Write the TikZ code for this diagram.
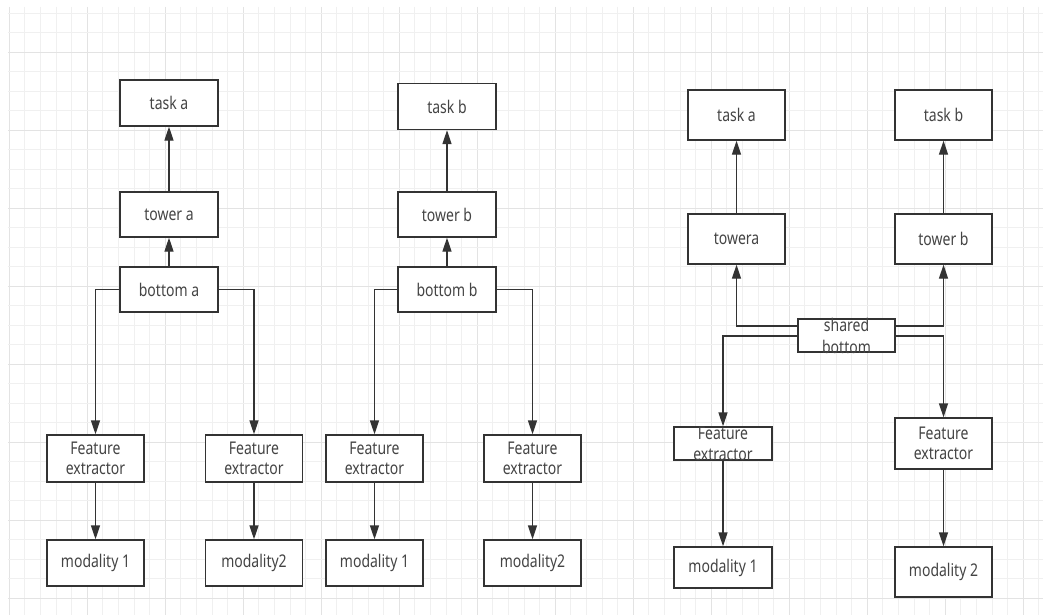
\documentclass[tikz,border=0pt]{standalone}
\usepackage{fontspec}
\setmainfont{Noto Sans}[FakeStretch=0.8]
\usetikzlibrary{arrows.meta}
\definecolor{gridminor}{HTML}{F0F0F0}
\definecolor{gridmajor}{HTML}{E3E3E3}
\definecolor{linec}{HTML}{333333}
\definecolor{txtc}{HTML}{444444}
\tikzset{
  box/.style={draw=linec, line width=1.4pt, fill=white, inner sep=0pt, align=center,
    text=txtc, font=\fontsize{17.5}{20.5}\selectfont, minimum width=97pt},
  txt/.style={inner sep=0pt, align=center, text=txtc, font=\fontsize{17.5}{20.5}\selectfont},
  conn/.style={draw=linec, line width=1.4pt},
  arr/.style={conn, -{Triangle[length=14pt,width=9pt]}}
}
\begin{document}
\begin{tikzpicture}[x=1pt,y=-1pt]
\useasboundingbox (0,0) rectangle (1043,615);
\fill[white] (0,0) rectangle (1043,615);
% grid
\foreach \k in {0,...,66}{
  \pgfmathsetmacro{\gx}{9.3+15.6*\k}
  \pgfmathtruncatemacro{\mj}{mod(\k,5)==0}
  \ifnum\mj=1
    \draw[gridmajor, line width=1.1pt] (\gx,7) -- (\gx,615);
  \else
    \draw[gridminor, line width=1pt] (\gx,7) -- (\gx,615);
  \fi
}
\foreach \k in {0,...,30}{
  \pgfmathsetmacro{\gy}{13.3+19.5*\k}
  \pgfmathtruncatemacro{\mj}{mod(\k,4)==2}
  \ifnum\mj=1
    \draw[gridmajor, line width=1.1pt] (8,\gy) -- (1043,\gy);
  \else
    \draw[gridminor, line width=1pt] (8,\gy) -- (1043,\gy);
  \fi
}
% ---- left group
\node[box, minimum width=98pt, minimum height=46pt] (ta1) at (169,103) {task a};
\node[box, minimum width=98pt, minimum height=45pt] (tw1) at (169,214.5) {tower a};
\node[box, minimum width=98pt, minimum height=45pt] (ba1) at (169,289.5) {bottom a};
\node[box, minimum height=47pt] (fe1) at (95.5,458.5) {Feature\\extractor};
\node[box, minimum height=46pt] (m1) at (95.5,563) {modality 1};
\node[box, minimum height=47pt] (fe2) at (254,458.5) {Feature\\extractor};
\node[box, minimum height=46pt] (m2) at (254,563) {modality2};
% ---- middle group
\node[box, minimum width=98pt, minimum height=46pt] (tb2) at (447,106.5) {task b};
\node[box, minimum width=98pt, minimum height=45pt] (tw2) at (447,214.5) {tower b};
\node[box, minimum width=98pt, minimum height=45pt] (bb2) at (447,289.5) {bottom b};
\node[box, minimum height=47pt] (fe3) at (374.5,458.5) {Feature\\extractor};
\node[box, minimum height=46pt] (m3) at (374.5,563) {modality 1};
\node[box, minimum height=47pt] (fe4) at (532.5,458.5) {Feature\\extractor};
\node[box, minimum height=46pt] (m4) at (532.5,563) {modality2};
% ---- right group
\node[box, minimum height=50pt] (ta3) at (736.5,115) {task a};
\node[box, minimum height=50pt] (tb3) at (943.5,115) {task b};
\node[box, minimum height=50pt] (tw3) at (736.5,239) {towera};
\node[box, minimum height=50pt] (tw4) at (943.5,239) {tower b};
\node[box, minimum height=33pt] (sb) at (846.5,335.5) {};
\node[txt, font=\fontsize{17.5}{22}\selectfont] (sbt) at (846.5,336) {shared\\bottom};
\node[box, minimum width=98pt, minimum height=33pt] (fe5) at (723,443.5) {};
\node[txt] (fe5t) at (723,444) {Feature\\extractor};
\node[box, minimum height=51pt] (fe6) at (943.5,443.5) {Feature\\extractor};
\node[box, minimum width=98pt, minimum height=41pt] (m5) at (723,567.5) {modality 1};
\node[box, minimum height=50pt] (m6) at (943.5,572) {modality 2};
% ---- connectors left
\draw[arr] (tw1.north) -- (ta1.south);
\draw[arr] (ba1.north) -- (tw1.south);
\draw[arr] (ba1.west) -| (fe1.north);
\draw[arr] (ba1.east) -| (fe2.north);
\draw[arr] (fe1.south) -- (m1.north);
\draw[arr] (fe2.south) -- (m2.north);
% ---- connectors middle
\draw[arr] (tw2.north) -- (tb2.south);
\draw[arr] (bb2.north) -- (tw2.south);
\draw[arr] (bb2.west) -| (fe3.north);
\draw[arr] (bb2.east) -| (fe4.north);
\draw[arr] (fe3.south) -- (m3.north);
\draw[arr] (fe4.south) -- (m4.north);
% ---- connectors right
\draw[arr] (tw3.north) -- (ta3.south);
\draw[arr] (tw4.north) -- (tb3.south);
\draw[arr] (sb.west |- 0,326) -| (tw3.south);
\draw[arr] (sb.east |- 0,326) -| (tw4.south);
\draw[arr] (sb.west |- 0,336) -| (fe5.north);
\draw[arr] (sb.east |- 0,336) -| (fe6.north);
\draw[arr] (fe5.south) -- (m5.north);
\draw[arr] (fe6.south) -- (m6.north);
\end{tikzpicture}
\end{document}
